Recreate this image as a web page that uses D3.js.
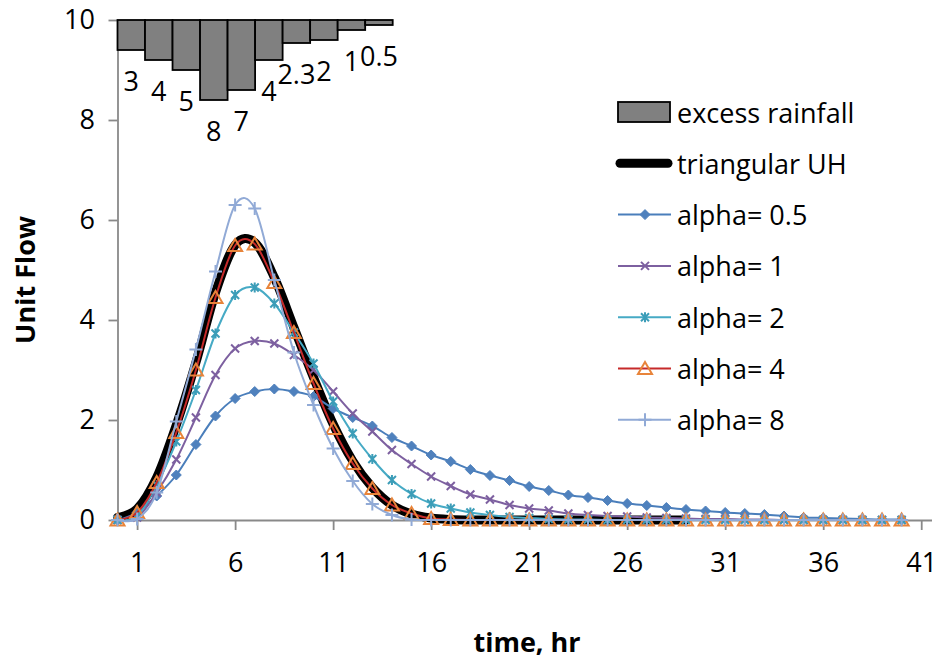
<!DOCTYPE html>
<html>
<head>
<meta charset="utf-8">
<script src="https://cdn.jsdelivr.net/npm/d3@7/dist/d3.min.js"></script>
<style>
  body { margin: 0; background: #fff; }
  svg text { font-family: "Open Sans", sans-serif; fill: #000; }
</style>
</head>
<body>
<div id="chart"></div>
<script>

// Data

var time = [0, 1, 2, 3, 4, 5, 6, 7, 8, 9, 10, 11, 12, 13, 14, 15, 16, 17, 18, 19, 20,
            21, 22, 23, 24, 25, 26, 27, 28, 29, 30, 31, 32, 33, 34, 35, 36, 37, 38, 39, 40];

var rainfall = [3, 4, 5, 8, 7, 4, 2.3, 2, 1, 0.5];

var triangularUH = [0.05, 0.22, 0.85, 1.9, 3.15, 4.55, 5.5, 5.55, 4.85, 3.85, 2.85, 1.92, 1.18, 0.65, 0.3,
                    0.12, 0.04, 0.01, 0, 0, 0, 0, 0, 0, 0, 0, 0, 0, 0, 0];

var alpha05 = [0, 0.15, 0.48, 0.9, 1.51, 2.08, 2.43, 2.57, 2.62, 2.57, 2.47, 2.23, 2.05, 1.88, 1.65,
               1.48, 1.3, 1.17, 1.01, 0.89, 0.79, 0.67, 0.59, 0.5, 0.45, 0.39, 0.33, 0.29, 0.25, 0.21,
               0.18, 0.15, 0.13, 0.11, 0.08, 0.05, 0.04, 0.03, 0.02, 0.01, 0.01];

var alpha1 = [0, 0.05, 0.55, 1.21, 2.05, 2.9, 3.43, 3.58, 3.53, 3.3, 3.0, 2.57, 2.13, 1.77, 1.4,
              1.12, 0.87, 0.68, 0.51, 0.41, 0.3, 0.23, 0.19, 0.13, 0.1, 0.08, 0.07, 0.05, 0.04, 0.03,
              0.02, 0.02, 0.01, 0.01, 0, 0, 0, 0, 0, 0, 0];

var alpha2 = [0, 0.08, 0.7, 1.57, 2.6, 3.73, 4.5, 4.65, 4.33, 3.75, 3.13, 2.37, 1.73, 1.22, 0.8,
              0.52, 0.33, 0.23, 0.15, 0.1, 0.06, 0.04, 0.02, 0.01, 0.01, 0, 0, 0, 0, 0,
              0, 0, 0, 0, 0, 0, 0, 0, 0, 0, 0];

var alpha4 = [0, 0.15, 0.75, 1.75, 3.0, 4.45, 5.49, 5.52, 4.75, 3.75, 2.73, 1.83, 1.13, 0.63, 0.3,
              0.13, 0.03, 0.01, 0, 0, 0, 0, 0, 0, 0, 0, 0, 0, 0, 0,
              0, 0, 0, 0, 0, 0, 0, 0, 0, 0, 0];

var alpha8 = [0, 0.02, 0.55, 1.97, 3.41, 4.97, 6.3, 6.23, 4.8, 3.35, 2.3, 1.43, 0.78, 0.32, 0.1,
              0.01, 0, 0, 0, 0, 0, 0, 0, 0, 0, 0, 0, 0, 0, 0,
              0, 0, 0, 0, 0, 0, 0, 0, 0, 0, 0];

var xTicks = [1, 6, 11, 16, 21, 26, 31, 36, 41];
var yTicks = [0, 2, 4, 6, 8, 10];

// Chart layout

var svgWidth = 932;
var svgHeight = 660;
var plotLeft = 117.5, plotRight = 932, plotTop = 20, plotBottom = 520;
var axisColor = '#898989';
var fontSize = 27;

var svg = d3.select('#chart').append('svg')
  .attr('width', svgWidth)
  .attr('height', svgHeight);

var x = d3.scaleLinear().domain([0, 41.55]).range([plotLeft, plotRight]);
var y = d3.scaleLinear().domain([0, 10]).range([plotBottom, plotTop]);

// secondary (reversed) scale for rainfall bars hanging from the top
var rainY = d3.scaleLinear().domain([0, 50]).range([plotTop, plotBottom]);
var rainX = d3.scaleBand()
  .domain(rainfall.map(function (d, i) { return i; }))
  .range([plotLeft, plotLeft + 275.2])
  .padding(0);

// Axes

var yAxis = svg.append('g')
  .attr('transform', 'translate(' + plotLeft + ',0)')
  .call(d3.axisLeft(y).tickValues(yTicks).tickSize(9).tickSizeOuter(0).tickPadding(13.5));

var xAxis = svg.append('g')
  .attr('transform', 'translate(0,' + plotBottom + ')')
  .call(d3.axisBottom(x).tickValues(xTicks).tickSize(10).tickSizeOuter(0));

[yAxis, xAxis].forEach(function (g) {
  g.select('.domain').attr('stroke', axisColor).attr('stroke-width', 1.8);
  g.selectAll('.tick line').attr('stroke', axisColor).attr('stroke-width', 1.8);
  g.selectAll('.tick text')
    .attr('font-size', fontSize)
    .attr('font-family', '"Open Sans", sans-serif')
    .attr('fill', '#000');
});
xAxis.selectAll('.tick text').attr('y', 51.5).attr('dy', 0);

// Excess rainfall bars

svg.append('g').selectAll('rect')
  .data(rainfall)
  .enter()
  .append('rect')
  .attr('x', function (d, i) { return rainX(i); })
  .attr('y', rainY(0))
  .attr('width', rainX.bandwidth())
  .attr('height', function (d) { return rainY(d) - rainY(0); })
  .attr('fill', '#808080')
  .attr('stroke', '#000')
  .attr('stroke-width', 1.8);

svg.append('g').selectAll('text')
  .data(rainfall)
  .enter()
  .append('text')
  .attr('x', function (d, i) { return rainX(i) + rainX.bandwidth() / 2; })
  .attr('y', function (d) { return rainY(d) + 30; })
  .attr('text-anchor', 'middle')
  .attr('dominant-baseline', 'central')
  .attr('font-size', fontSize)
  .text(function (d) { return d; });

// Markers

function markerPath(type) {
  if (type === 'diamond') return 'M0,-5L5,0L0,5L-5,0Z';
  if (type === 'x') return 'M-4,-4L4,4M-4,4L4,-4';
  if (type === 'star') return 'M-4,-4L4,4M-4,4L4,-4M0,-5L0,5';
  if (type === 'triangle') return 'M0,-6.5L7,5.5L-7,5.5Z';
  if (type === 'plus') return 'M-6.5,0L6.5,0M0,-6.5L0,6.5';
  return '';
}

var series = [
  { name: 'alpha= 0.5', values: alpha05, line: '#4A7EBB', mark: '#4F81BD', marker: 'diamond', fill: true },
  { name: 'alpha= 1', values: alpha1, line: '#7D60A0', mark: '#7D60A0', marker: 'x', fill: false },
  { name: 'alpha= 2', values: alpha2, line: '#46AAC5', mark: '#3C9DB8', marker: 'star', fill: false },
  { name: 'alpha= 4', values: alpha4, line: '#C62A2A', mark: '#E8843A', marker: 'triangle', fill: false },
  { name: 'alpha= 8', values: alpha8, line: '#91AAD6', mark: '#91AAD6', marker: 'plus', fill: false }
];

var line = d3.line()
  .x(function (d, i) { return x(time[i]); })
  .y(function (d) { return y(d); })
  .curve(d3.curveCardinal.tension(0));

// triangular UH, thick black
svg.append('path')
  .attr('d', line(triangularUH))
  .attr('fill', 'none')
  .attr('stroke', '#000')
  .attr('stroke-width', 9)
  .attr('stroke-linejoin', 'round')
  .attr('stroke-linecap', 'round');

series.forEach(function (s) {
  var g = svg.append('g');
  g.append('path')
    .attr('d', line(s.values))
    .attr('fill', 'none')
    .attr('stroke', s.line)
    .attr('stroke-width', 2);
  g.selectAll('path.mk')
    .data(s.values)
    .enter()
    .append('path')
    .attr('class', 'mk')
    .attr('transform', function (d, i) { return 'translate(' + x(time[i]) + ',' + y(d) + ')'; })
    .attr('d', markerPath(s.marker))
    .attr('fill', s.fill ? s.mark : 'none')
    .attr('stroke', s.mark)
    .attr('stroke-width', s.fill ? 1 : 2);
});

// Legend

var legendX = 618, legendTextX = 677;
var legendRows = [112, 163.3, 214.6, 265.9, 317.2, 368.5, 419.8];
var legend = svg.append('g');

legend.append('rect')
  .attr('x', legendX)
  .attr('y', legendRows[0] - 10)
  .attr('width', 52)
  .attr('height', 20)
  .attr('fill', '#808080')
  .attr('stroke', '#000')
  .attr('stroke-width', 1.8);
legend.append('text')
  .attr('x', legendTextX).attr('y', legendRows[0])
  .attr('dominant-baseline', 'central')
  .attr('font-size', fontSize)
  .text('excess rainfall');

legend.append('line')
  .attr('x1', legendX + 2).attr('x2', legendX + 50)
  .attr('y1', legendRows[1]).attr('y2', legendRows[1])
  .attr('stroke', '#000').attr('stroke-width', 9).attr('stroke-linecap', 'round');
legend.append('text')
  .attr('x', legendTextX).attr('y', legendRows[1])
  .attr('dominant-baseline', 'central')
  .attr('font-size', fontSize)
  .text('triangular UH');

series.forEach(function (s, i) {
  var ly = legendRows[i + 2];
  legend.append('line')
    .attr('x1', legendX).attr('x2', legendX + 53)
    .attr('y1', ly).attr('y2', ly)
    .attr('stroke', s.line).attr('stroke-width', 2);
  legend.append('path')
    .attr('transform', 'translate(' + (legendX + 27) + ',' + ly + ')')
    .attr('d', markerPath(s.marker))
    .attr('fill', s.fill ? s.mark : 'none')
    .attr('stroke', s.mark)
    .attr('stroke-width', s.fill ? 1 : 2);
  legend.append('text')
    .attr('x', legendTextX).attr('y', ly)
    .attr('dominant-baseline', 'central')
    .attr('font-size', fontSize)
    .text(s.name);
});

// Axis titles

svg.append('text')
  .attr('transform', 'translate(35,280) rotate(-90)')
  .attr('text-anchor', 'middle')
  .attr('font-size', fontSize)
  .attr('font-weight', 'bold')
  .text('Unit Flow');

svg.append('text')
  .attr('x', 527)
  .attr('y', 652)
  .attr('text-anchor', 'middle')
  .attr('font-size', fontSize)
  .attr('font-weight', 'bold')
  .text('time, hr');

</script>
</body>
</html>
